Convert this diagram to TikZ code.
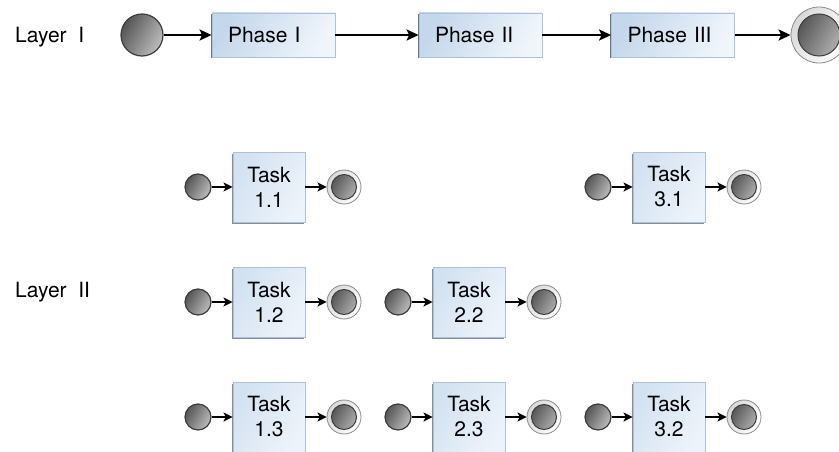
\documentclass[tikz,border=0pt]{standalone}
\usepackage{fontspec}
\setmainfont{TeX Gyre Heros}
\usetikzlibrary{arrows.meta,shadows}

\definecolor{boxline}{HTML}{A9C3DD}
\definecolor{phasedark}{HTML}{C4D7EB}
\definecolor{phaselight}{HTML}{F0F5FB}
\definecolor{taskdark}{HTML}{D3E2F1}
\definecolor{tasklight}{HTML}{EDF3FA}
\definecolor{balldark}{HTML}{555555}
\definecolor{balllight}{HTML}{BDBDBD}
\definecolor{ballline}{HTML}{3C3C3C}
\definecolor{ringline}{HTML}{8A8A8A}

\tikzset{
  layertext/.style={anchor=base west, inner sep=0pt},
  phasebox/.style={rectangle, draw=boxline, line width=0.8pt,
    left color=phasedark, right color=phaselight, shading angle=60,
    general shadow={shadow xshift=-1.2pt, shadow yshift=-1.5pt, fill=black!55},
    text width=91pt, inner xsep=16pt, inner ysep=0pt, align=left,
    minimum height=44pt},
  taskbox/.style={rectangle, draw=boxline, line width=0.8pt,
    left color=taskdark, right color=tasklight, shading angle=60,
    general shadow={shadow xshift=-1.2pt, shadow yshift=-1.5pt, fill=black!45},
    minimum width=72pt, minimum height=70pt, inner sep=0pt, align=center},
  startball/.style={circle, draw=ballline, line width=1.2pt, inner sep=0pt,
    left color=balldark, right color=balllight, shading angle=60},
  endball/.style={circle, draw=ringline, line width=0.8pt, inner sep=0pt,
    left color=black!15, right color=white, shading angle=60,
    path picture={
      \shade[left color=balldark!85!black, right color=balllight, shading angle=60]
        (path picture bounding box.center) circle[radius=#1];
      \draw[ballline, line width=1pt]
        (path picture bounding box.center) circle[radius=#1];}},
  flow/.style={draw=black, line width=2.4pt, -{Stealth[length=12pt, width=11pt, inset=2.5pt]}},
  taskflow/.style={draw=black, line width=2.4pt, -{Stealth[length=9pt, width=9pt, inset=2pt]}}
}

\begin{document}
\begin{tikzpicture}[x=1pt, y=-1pt, every node/.style={font=\fontsize{21}{25}\selectfont}]
  \useasboundingbox (0,0) rectangle (839,452);

  % labels
  \node[layertext] (layer1) at (15,43) {Layer\ \ I};
  \node[layertext] (layer2) at (15,297) {Layer\ \ II};

  % Layer I
  \node[startball, minimum size=42pt] (start) at (142,35) {};
  \node[phasebox] (phase1) at (273.5,35) {Phase I};
  \node[phasebox] (phase2) at (480.5,35) {Phase II};
  \node[phasebox] (phase3) at (673,35) {Phase III};
  \node[endball=21pt, minimum size=56pt] (finish) at (819,35) {};
  \draw[flow] (start) -- (phase1);
  \draw[flow] (phase1) -- (phase2);
  \draw[flow] (phase2) -- (phase3);
  \draw[flow] (phase3) -- (finish);

  % Layer II, first row
  \node[startball, minimum size=26pt] (s11) at (198,187) {};
  \node[taskbox] (t11) at (269,187) {Task\\1.1};
  \node[endball=12.5pt, minimum size=34pt] (e11) at (344,187) {};
  \draw[taskflow] (s11) -- (t11);
  \draw[taskflow] (t11) -- (e11);

  \node[startball, minimum size=26pt] (s31) at (598,187) {};
  \node[taskbox] (t31) at (669,187) {Task\\3.1};
  \node[endball=12.5pt, minimum size=34pt] (e31) at (744,187) {};
  \draw[taskflow] (s31) -- (t31);
  \draw[taskflow] (t31) -- (e31);

  % Layer II, second row
  \node[startball, minimum size=26pt] (s12) at (198,302) {};
  \node[taskbox] (t12) at (269,302) {Task\\1.2};
  \node[endball=12.5pt, minimum size=34pt] (e12) at (344,302) {};
  \draw[taskflow] (s12) -- (t12);
  \draw[taskflow] (t12) -- (e12);

  \node[startball, minimum size=26pt] (s22) at (398,302) {};
  \node[taskbox] (t22) at (469,302) {Task\\2.2};
  \node[endball=12.5pt, minimum size=34pt] (e22) at (544,302) {};
  \draw[taskflow] (s22) -- (t22);
  \draw[taskflow] (t22) -- (e22);

  % Layer II, third row
  \node[startball, minimum size=26pt] (s13) at (198,417) {};
  \node[taskbox] (t13) at (269,417) {Task\\1.3};
  \node[endball=12.5pt, minimum size=34pt] (e13) at (344,417) {};
  \draw[taskflow] (s13) -- (t13);
  \draw[taskflow] (t13) -- (e13);

  \node[startball, minimum size=26pt] (s23) at (398,417) {};
  \node[taskbox] (t23) at (469,417) {Task\\2.3};
  \node[endball=12.5pt, minimum size=34pt] (e23) at (544,417) {};
  \draw[taskflow] (s23) -- (t23);
  \draw[taskflow] (t23) -- (e23);

  \node[startball, minimum size=26pt] (s32) at (598,417) {};
  \node[taskbox] (t32) at (669,417) {Task\\3.2};
  \node[endball=12.5pt, minimum size=34pt] (e32) at (744,417) {};
  \draw[taskflow] (s32) -- (t32);
  \draw[taskflow] (t32) -- (e32);
\end{tikzpicture}
\end{document}
